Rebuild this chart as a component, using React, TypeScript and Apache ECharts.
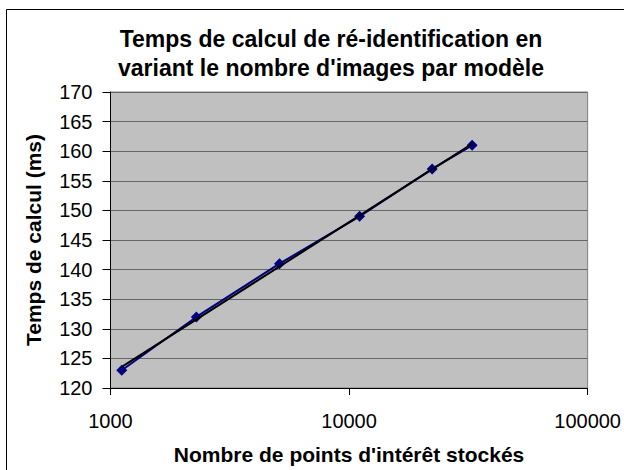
import React, { useEffect, useRef } from "react";
import * as echarts from "echarts";

const pointsStored = [1115, 2290, 5110, 11070, 22300, 32800];
const calcTimeMs = [123, 132, 141, 149, 157, 161];
const xTickLabels = ["1000", "10000", "100000"];
const yMin = 120;
const yMax = 170;
const yStep = 5;

const titleLines = [
  "Temps de calcul de ré-identification en",
  "variant le nombre d'images par modèle",
];
const xName = "Nombre de points d'intérêt stockés";
const yName = "Temps de calcul (ms)";

function logFit(xs: number[], ys: number[]) {
  const lx = xs.map((v) => Math.log10(v));
  const n = lx.length;
  const mx = lx.reduce((a, b) => a + b, 0) / n;
  const my = ys.reduce((a, b) => a + b, 0) / n;
  let sxy = 0;
  let sxx = 0;
  for (let i = 0; i < n; i++) {
    sxy += (lx[i] - mx) * (ys[i] - my);
    sxx += (lx[i] - mx) * (lx[i] - mx);
  }
  const b = sxy / sxx;
  const a = my - b * mx;
  const x0 = xs[0];
  const x1 = xs[xs.length - 1];
  return [
    [x0, a + b * Math.log10(x0)],
    [x1, a + b * Math.log10(x1)],
  ];
}

const FONT = "'Liberation Sans', Arial, Helvetica, sans-serif";

export default function App() {
  const ref = useRef<HTMLDivElement>(null);
  useEffect(() => {
    if (!ref.current) return;
    const chart = echarts.init(ref.current, undefined, { renderer: "svg" });
    const trend = logFit(pointsStored, calcTimeMs);
    chart.setOption({
      animation: false,
      backgroundColor: "#ffffff",
      textStyle: { fontFamily: FONT },
      grid: {
        left: 110.5,
        right: 35.5,
        top: 92,
        bottom: 80,
        show: true,
        backgroundColor: "#C0C0C0",
        borderColor: "#808080",
        borderWidth: 1,
        containLabel: false,
      },
      graphic: [
        {
          type: "rect",
          shape: { x: 6.5, y: 9.5, width: 700, height: 600 },
          style: { fill: "none", stroke: "#000", lineWidth: 1 },
          silent: true,
          z: -10,
        },
        ...titleLines.map((t, i) => ({
          type: "text",
          x: 331,
          y: 39 + i * 29,
          style: {
            text: t,
            fontFamily: FONT,
            fontSize: 23,
            fontWeight: "bold",
            fill: "#000",
            textAlign: "center",
            textVerticalAlign: "middle",
          },
        })),
      ],
      xAxis: {
        type: "log",
        logBase: 10,
        min: 1000,
        max: 100000,
        name: xName,
        nameLocation: "middle",
        nameGap: 56,
        nameTextStyle: {
          fontFamily: FONT,
          fontSize: 21,
          fontWeight: "bold",
          color: "#000",
        },
        axisLine: { lineStyle: { color: "#000", width: 1 } },
        axisTick: { show: true, length: 7, lineStyle: { color: "#000" } },
        minorTick: { show: false },
        splitLine: { show: false },
        axisLabel: {
          fontFamily: FONT,
          fontSize: 20,
          color: "#000",
          margin: 23,
          formatter: (v: number) => {
            const s = String(Math.round(v));
            return xTickLabels.includes(s) ? s : "";
          },
        },
      },
      yAxis: {
        type: "value",
        min: yMin,
        max: yMax,
        interval: yStep,
        name: yName,
        nameLocation: "middle",
        nameGap: 67,
        nameTextStyle: {
          fontFamily: FONT,
          fontSize: 21,
          fontWeight: "bold",
          color: "#000",
        },
        axisLine: { show: true, lineStyle: { color: "#000", width: 1 } },
        axisTick: { show: true, length: 8, lineStyle: { color: "#000" } },
        splitLine: { show: true, lineStyle: { color: "#666", width: 1 } },
        axisLabel: {
          fontFamily: FONT,
          fontSize: 20,
          color: "#000",
          margin: 18,
        },
      },
      series: [
        {
          type: "line",
          name: "data",
          data: pointsStored.map((x, i) => [x, calcTimeMs[i]]),
          symbol: "diamond",
          symbolSize: 11,
          showSymbol: true,
          lineStyle: { color: "#000080", width: 2 },
          itemStyle: { color: "#000080" },
          z: 3,
        },
        {
          type: "line",
          name: "trend",
          data: trend,
          symbol: "none",
          lineStyle: { color: "#000", width: 2 },
          z: 4,
        },
      ],
    });
    return () => chart.dispose();
  }, []);
  return (
    <div
      ref={ref}
      style={{ position: "fixed", left: 0, top: 0, width: 624, height: 470 }}
    />
  );
}
